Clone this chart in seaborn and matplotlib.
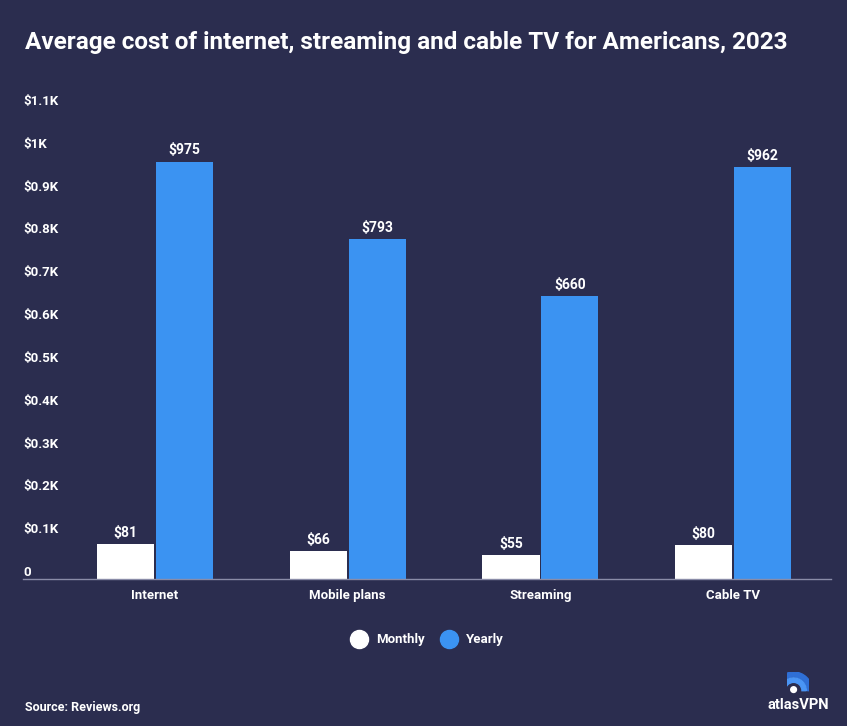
import pandas as pd
import matplotlib
matplotlib.use("Agg")
import matplotlib.pyplot as plt
import seaborn as sns
from matplotlib.lines import Line2D
from matplotlib.patches import Wedge, Circle

# Data
categories = ['Internet', 'Mobile plans', 'Streaming', 'Cable TV']
monthly = [81, 66, 55, 80]
yearly = [975, 793, 660, 962]
series_names = ['Monthly', 'Yearly']
y_ticks = [0, 100, 200, 300, 400, 500, 600, 700, 800, 900, 1000, 1100]
y_tick_labels = ['0', '$0.1K', '$0.2K', '$0.3K', '$0.4K', '$0.5K', '$0.6K',
                 '$0.7K', '$0.8K', '$0.9K', '$1K', '$1.1K']

bg = '#2b2d4f'
colors = {'Monthly': '#ffffff', 'Yearly': '#3b93f2'}

data = pd.DataFrame({
    'category': categories * 2,
    'series': ['Monthly'] * len(categories) + ['Yearly'] * len(categories),
    'value': monthly + yearly,
})

sns.set_style('dark')
plt.rcParams['font.family'] = ['Roboto', 'DejaVu Sans']
plt.rcParams['font.weight'] = 'bold'

fig = plt.figure(figsize=(8.47, 7.26), dpi=100, facecolor=bg)
ax = fig.add_axes([0.0272, 0.2025, 0.954, 0.6487])
ax.set_facecolor(bg)

sns.barplot(data=data, x='category', y='value', hue='series', order=categories,
            hue_order=series_names, palette=colors, width=0.61, gap=0.03,
            saturation=1, legend=False, linewidth=0, edgecolor='none', ax=ax)

ax.set_xlim(-0.684, 3.508)
ax.set_ylim(0, 1100)
ax.grid(False)
for s in ['top', 'right', 'left']:
    ax.spines[s].set_visible(False)
ax.spines['bottom'].set_color('#8a8ca8')
ax.spines['bottom'].set_linewidth(1)

ax.set_xlabel('')
ax.set_ylabel('')
ax.tick_params(axis='x', length=0, pad=7, colors='white', labelsize=9.5)
for lbl in ax.get_xticklabels():
    lbl.set_fontweight('bold')

# y labels drawn inside the axes, slightly above their values
ax.set_yticks([])
for v, t in zip(y_ticks, y_tick_labels):
    ax.text(0.0, v, t, transform=ax.get_yaxis_transform(), ha='left', va='bottom',
            color='white', fontsize=9.5, fontweight='bold')

# bar labels
for container in ax.containers:
    ax.bar_label(container, labels=[f'${int(v)}' for v in container.datavalues],
                 padding=3, color='white', fontsize=10, fontweight='bold')

# title
fig.text(25 / 847, 1 - 42 / 726, 'Average cost of internet, streaming and cable TV for Americans, 2023',
         ha='left', va='center', color='white', fontsize=17.5, fontweight='bold')

# legend
handles = [Line2D([], [], marker='o', linestyle='', markersize=13,
                  markerfacecolor=colors[n], markeredgecolor=colors[n], label=n)
           for n in series_names]
fig.legend(handles=handles, loc='center', bbox_to_anchor=(425 / 847, 1 - 640 / 726),
           ncol=2, frameon=False, labelcolor='white', handletextpad=0.3,
           columnspacing=0.8, prop={'weight': 'bold', 'size': 9.5})

# source
fig.text(25 / 847, 1 - 708 / 726, 'Source: Reviews.org', ha='left', va='center',
         color='white', fontsize=9, fontweight='bold')

# logo
fig.text(798 / 847, 1 - 705 / 726, 'atlasVPN', ha='center', va='center',
         color='white', fontsize=10.5, fontweight='bold')
lax = fig.add_axes([787 / 847, 1 - 694 / 726, 22 / 847, 22 / 726])
lax.set_xlim(0, 1)
lax.set_ylim(0, 1)
lax.axis('off')
lax.add_patch(Wedge((0.3, 0.15), 0.85, 0, 90, width=0.22, color='#2f6fd6'))
lax.add_patch(Wedge((0.3, 0.15), 0.58, 0, 90, width=0.2, color='#4a95f5'))
lax.add_patch(Wedge((0.3, 0.15), 0.85, 90, 180, width=0.22, color='#2f6fd6'))
lax.add_patch(Wedge((0.3, 0.15), 0.58, 90, 180, width=0.2, color='#4a95f5'))
lax.add_patch(Circle((0.3, 0.2), 0.13, color='white'))

fig.savefig('out.png', dpi=100, facecolor=bg)
